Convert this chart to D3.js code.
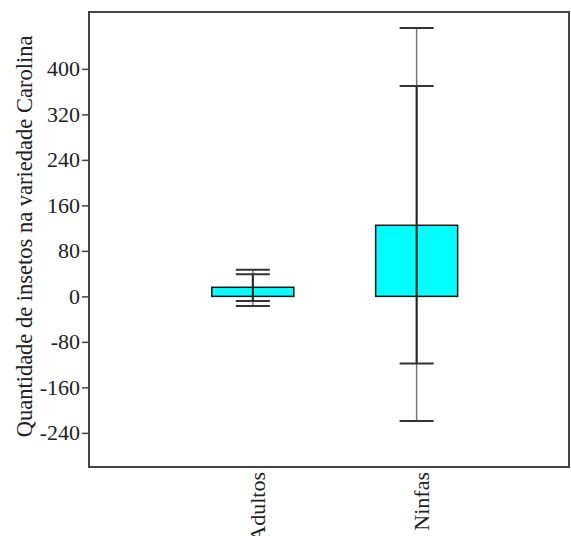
<!DOCTYPE html>
<html>
<head>
<meta charset="utf-8">
<script src="https://cdn.jsdelivr.net/npm/d3@7"></script>
<style>
  body { margin: 0; background: #fff; }
  text { font-family: "Liberation Serif", "DejaVu Serif", serif; }
</style>
</head>
<body>
<div id="chart"></div>
<script>
// data
let categories = ["Adultos", "Ninfas"];
let means = [16, 125];
let innerLow = [-8, -118];
let innerHigh = [39, 370];
let outerLow = [-17, -219];
let outerHigh = [47, 472];
let yTicks = [-240, -160, -80, 0, 80, 160, 240, 320, 400];

const width = 571;
const height = 536;
const plotLeft = 89, plotRight = 569, plotTop = 12, plotBottom = 467;

var svg = d3.select("#chart")
    .append("svg")
    .attr("width", width)
    .attr("height", height);

var y = d3.scaleLinear().domain([-300, 500]).range([plotBottom, plotTop]);
// categories sit at 1 and 2
var x = d3.scaleLinear().domain([0, 2.93]).range([plotLeft, plotRight]);

let barW = 82;
let capW = 34;

// bars
svg.append("g")
    .selectAll("rect")
    .data(categories)
    .enter().append("rect")
    .attr("x", (d, i) => x(i + 1) - barW / 2)
    .attr("y", (d, i) => y(Math.max(0, means[i])))
    .attr("width", barW)
    .attr("height", (d, i) => Math.abs(y(0) - y(means[i])))
    .attr("fill", "#00ffff")
    .attr("stroke", "#111")
    .attr("stroke-width", 1.5);

// whiskers: outer thin and lighter, inner darker
var err = svg.append("g");
categories.forEach(function(c, i) {
    let cx = x(i + 1);
    err.append("line")
        .attr("x1", cx).attr("x2", cx)
        .attr("y1", y(outerLow[i])).attr("y2", y(outerHigh[i]))
        .attr("stroke", "#777").attr("stroke-width", 1.5);
    err.append("line")
        .attr("x1", cx).attr("x2", cx)
        .attr("y1", y(innerLow[i])).attr("y2", y(innerHigh[i]))
        .attr("stroke", "#222").attr("stroke-width", 2);
    [outerLow[i], outerHigh[i], innerLow[i], innerHigh[i]].forEach(function(v) {
        err.append("line")
            .attr("x1", cx - capW / 2).attr("x2", cx + capW / 2)
            .attr("y1", y(v)).attr("y2", y(v))
            .attr("stroke", "#333").attr("stroke-width", 2);
    });
});

// frame
svg.append("rect")
    .attr("x", plotLeft).attr("y", plotTop)
    .attr("width", plotRight - plotLeft).attr("height", plotBottom - plotTop)
    .attr("fill", "none")
    .attr("stroke", "#444")
    .attr("stroke-width", 2);

// y axis
var yAxis = svg.append("g")
    .attr("transform", "translate(" + plotLeft + ",0)")
    .call(d3.axisLeft(y).tickValues(yTicks).tickSize(7).tickPadding(2)
        .tickFormat(d => String(d)));
yAxis.select(".domain").remove();
yAxis.selectAll("line").attr("stroke", "#444").attr("stroke-width", 1.5);
yAxis.selectAll("text")
    .attr("font-family", "Liberation Serif")
    .attr("font-size", 22)
    .attr("fill", "#222");

// x labels, rotated
svg.append("g")
    .selectAll("text")
    .data(categories)
    .enter().append("text")
    .attr("transform", (d, i) => "translate(" + (x(i + 1) + 12) + "," + (plotBottom + 5) + ") rotate(-90)")
    .attr("text-anchor", "end")
    .attr("font-size", 22)
    .attr("fill", "#222")
    .text(d => d);

// y title
svg.append("text")
    .attr("transform", "translate(32," + ((plotTop + plotBottom) / 2 - 3) + ") rotate(-90)")
    .attr("text-anchor", "middle")
    .attr("font-size", 22.5)
    .attr("fill", "#222")
    .text("Quantidade de insetos na variedade Carolina");
</script>
</body>
</html>
